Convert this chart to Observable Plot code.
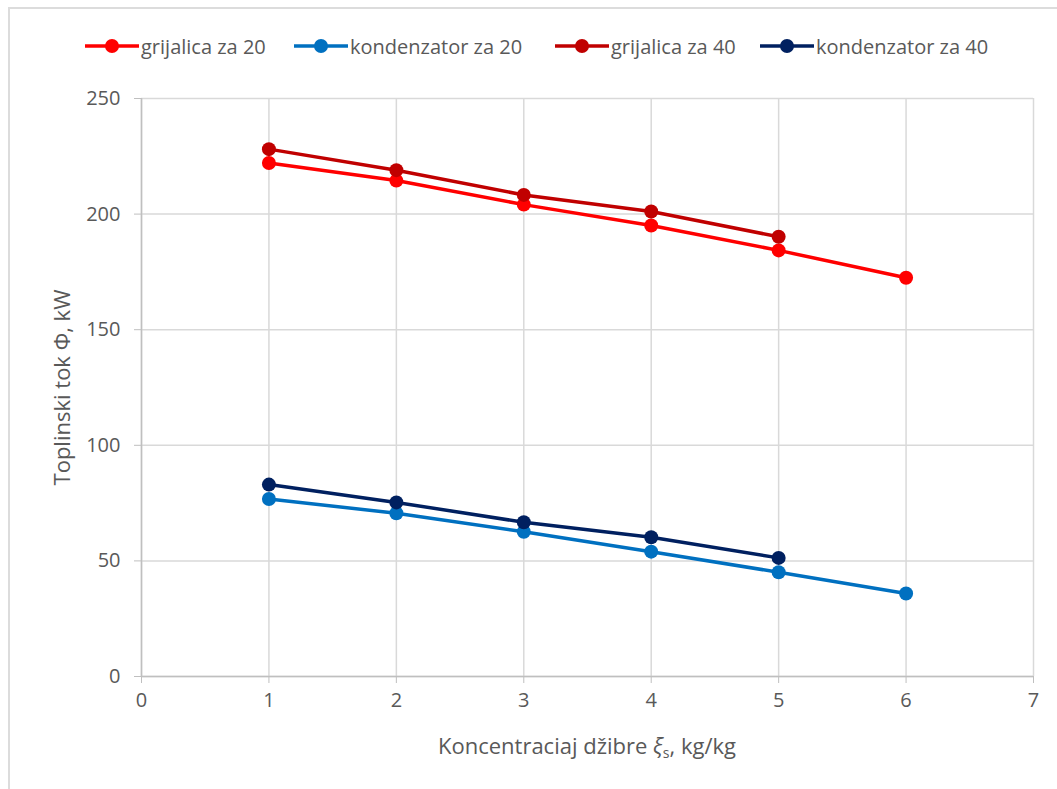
<!DOCTYPE html>
<html>
<head>
<meta charset="utf-8">
<script src="https://cdn.jsdelivr.net/npm/d3@7"></script>
<script src="https://cdn.jsdelivr.net/npm/@observablehq/plot@0.6"></script>
<style>
  html, body { margin: 0; padding: 0; background: #fff; }
  #wrap { position: relative; width: 1057px; height: 789px; overflow: hidden; font-family: "Open Sans", sans-serif; }
  #frame { position: absolute; left: 8px; top: 7px; right: -5px; bottom: -5px; border-top: 2px solid #dcdcdc; border-left: 2px solid #dcdcdc; pointer-events: none; }
  #legend { position: relative; height: 72px; }
  .item { position: absolute; top: 32px; height: 28px; display: flex; align-items: center; font-size: 20px; color: #595959; white-space: nowrap; }
  .item svg { display: block; margin-right: 2px; }
  #chart svg { display: block; }
</style>
</head>
<body>
<div id="wrap">
  <div id="legend"></div>
  <div id="chart"></div>
  <div id="frame"></div>
</div>
<script>
// ---- data ----
const xValues = [1, 2, 3, 4, 5, 6];
const grijalica20 = [222.1, 214.5, 204.1, 195.1, 184.3, 172.5];
const kondenzator20 = [76.8, 70.6, 62.6, 54.0, 45.1, 35.9];
const grijalica40 = [228.1, 219.0, 208.3, 201.1, 190.2];
const kondenzator40 = [83.0, 75.3, 66.7, 60.2, 51.3];
const seriesNames = ["grijalica za 20", "kondenzator za 20", "grijalica za 40", "kondenzator za 40"];
const seriesColors = ["#FF0000", "#0070C0", "#C00000", "#002060"];
const xTicks = [0, 1, 2, 3, 4, 5, 6, 7];
const yTicks = [0, 50, 100, 150, 200, 250];
const yTitle = "Toplinski tok Φ, kW";

const seriesValues = [grijalica20, kondenzator20, grijalica40, kondenzator40];
const data = [];
seriesValues.forEach((vals, si) => {
  vals.forEach((v, i) => data.push({series: seriesNames[si], x: xValues[i], y: v}));
});

// ---- legend ----
const legendLeft = [85, 294, 555, 760];
const legend = document.getElementById("legend");
seriesNames.forEach((name, i) => {
  const div = document.createElement("div");
  div.className = "item";
  div.style.left = legendLeft[i] + "px";
  const c = seriesColors[i];
  div.innerHTML = `<svg width="54" height="20"><line x1="0" y1="10" x2="54" y2="10" stroke="${c}" stroke-width="3.5"/><circle cx="27" cy="10" r="7" fill="${c}"/></svg><span>${name}</span>`;
  legend.appendChild(div);
});

// ---- chart ----
const color = {domain: seriesNames, range: seriesColors};
const plot = Plot.plot({
  width: 1057,
  height: 717,
  marginLeft: 141,
  marginRight: 24,
  marginTop: 26,
  marginBottom: 113,
  style: {fontFamily: "'Open Sans', sans-serif", fontSize: "20px", color: "#595959", background: "transparent"},
  x: {domain: [0, 7]},
  y: {domain: [0, 250]},
  color,
  marks: [
    Plot.gridX(xTicks, {stroke: "#d9d9d9", strokeOpacity: 1, strokeWidth: 1.5}),
    Plot.gridY(yTicks, {stroke: "#d9d9d9", strokeOpacity: 1, strokeWidth: 1.5}),
    Plot.ruleX([0], {stroke: "#bfbfbf", strokeWidth: 1.5}),
    Plot.ruleY([0], {stroke: "#bfbfbf", strokeWidth: 1.5}),
    Plot.axisX(xTicks, {tickSize: 7, tickPadding: 9, stroke: "#bfbfbf", fill: "#595959", label: null, fontSize: 20, tickFormat: d3.format("d")}),
    Plot.axisY(yTicks, {tickSize: 7, tickPadding: 14, stroke: "#bfbfbf", fill: "#595959", label: null, fontSize: 20, tickFormat: d3.format("d")}),
    Plot.line(data, {x: "x", y: "y", z: "series", stroke: d => d.series, strokeWidth: 3.5}),
    Plot.dot(data, {x: "x", y: "y", fill: d => d.series, r: 7}),
    Plot.text([yTitle], {frameAnchor: "left", dx: -79, rotate: -90, textAnchor: "middle", fontSize: 22, fill: "#595959"})
  ]
});
document.getElementById("chart").appendChild(plot);

// x-axis title with italic xi and subscript s
const svg = d3.select(plot);
const t = svg.append("text")
  .attr("x", (141 + 1033) / 2)
  .attr("y", 717 - 35)
  .attr("text-anchor", "middle")
  .attr("fill", "#595959")
  .attr("font-size", 22)
  .attr("font-family", "'Open Sans', sans-serif");
t.append("tspan").text("Koncentraciaj džibre ");
t.append("tspan").attr("font-style", "italic").text("ξ");
t.append("tspan").attr("font-size", 14).attr("dy", 4).text("s");
t.append("tspan").attr("dy", -4).text(", kg/kg");
</script>
</body>
</html>
